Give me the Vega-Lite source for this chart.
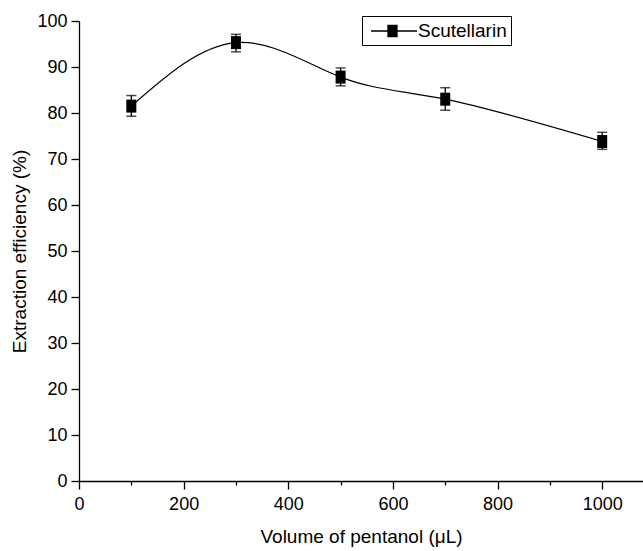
{
  "$schema": "https://vega.github.io/schema/vega-lite/v6.json",
  "width": 564,
  "height": 460,
  "autosize": "none",
  "padding": {"left": 79, "top": 21, "right": 0, "bottom": 70},
  "background": "white",
  "config": {
    "view": {"stroke": null},
    "font": "Liberation Sans",
    "axis": {
      "domainColor": "black",
      "domainWidth": 1.3,
      "tickColor": "black",
      "tickWidth": 1.3,
      "labelColor": "black",
      "titleColor": "black",
      "labelFontSize": 18,
      "titleFontSize": 19,
      "titleFontWeight": "normal",
      "grid": false
    }
  },
  "data": {
    "values": [
      {"vol": 100, "eff": 81.5, "lo": 79.3, "hi": 83.8, "series": "Scutellarin"},
      {"vol": 300, "eff": 95.3, "lo": 93.3, "hi": 97.1, "series": "Scutellarin"},
      {"vol": 500, "eff": 87.8, "lo": 85.9, "hi": 89.8, "series": "Scutellarin"},
      {"vol": 700, "eff": 83.0, "lo": 80.6, "hi": 85.5, "series": "Scutellarin"},
      {"vol": 1000, "eff": 73.8, "lo": 72.1, "hi": 75.8, "series": "Scutellarin"}
    ]
  },
  "encoding": {
    "x": {
      "field": "vol",
      "type": "quantitative",
      "scale": {"domain": [0, 1078], "nice": false, "zero": false},
      "axis": {
        "title": "Volume of pentanol (μL)",
        "format": "d",
        "values": [0, 100, 200, 300, 400, 500, 600, 700, 800, 900, 1000],
        "labelExpr": "datum.value % 200 === 0 ? datum.label : ''",
        "tickSize": {"condition": {"test": "datum.value % 200 === 0", "value": 8}, "value": 4},
        "labelPadding": 6,
        "titlePadding": 14,
        "labelFlush": false
      }
    }
  },
  "layer": [
    {
      "mark": {"type": "line", "interpolate": "natural", "color": "black", "strokeWidth": 1.2},
      "encoding": {
        "y": {
          "field": "eff",
          "type": "quantitative",
          "scale": {"domain": [0, 100], "nice": false},
          "axis": {
            "title": "Extraction efficiency (%)",
            "values": [0, 5, 10, 15, 20, 25, 30, 35, 40, 45, 50, 55, 60, 65, 70, 75, 80, 85, 90, 95, 100],
            "labelExpr": "datum.value % 10 === 0 ? datum.label : ''",
            "tickSize": {"condition": {"test": "datum.value % 10 === 0", "value": 8}, "value": 4},
            "labelPadding": 4,
            "titlePadding": 7,
            "labelFlush": false
          }
        }
      }
    },
    {
      "mark": {"type": "rule", "color": "black", "strokeWidth": 1.3},
      "encoding": {
        "y": {"field": "lo", "type": "quantitative"},
        "y2": {"field": "hi"}
      }
    },
    {
      "mark": {"type": "tick", "orient": "horizontal", "color": "black", "size": 10, "thickness": 1.5},
      "encoding": {"y": {"field": "lo", "type": "quantitative"}}
    },
    {
      "mark": {"type": "tick", "orient": "horizontal", "color": "black", "size": 10, "thickness": 1.5},
      "encoding": {"y": {"field": "hi", "type": "quantitative"}}
    },
    {
      "mark": {
        "type": "point",
        "filled": true,
        "opacity": 1,
        "shape": "M-0.77,-1L0.77,-1L0.77,1L-0.77,1Z",
        "size": 169
      },
      "encoding": {
        "y": {"field": "eff", "type": "quantitative"},
        "color": {
          "field": "series",
          "type": "nominal",
          "scale": {"domain": ["Scutellarin"], "range": ["black"]},
          "legend": {
            "title": null,
            "orient": "none",
            "legendX": 283,
            "legendY": -5,
            "direction": "vertical",
            "strokeColor": "black",
            "fillColor": "white",
            "padding": 4,
            "symbolType": "M1.1,-0.55L2.0,-0.55L2.0,0.55L1.1,0.55Z M-0.6,0L1.1,0 M2.0,0L4.0,0",
            "symbolSize": 400,
            "symbolFillColor": "black",
            "symbolStrokeColor": "black",
            "symbolStrokeWidth": 1.3,
            "symbolOpacity": 1,
            "symbolOffset": 0,
            "labelOffset": 30,
            "labelFontSize": 19,
            "labelColor": "black",
            "labelFont": "Liberation Sans"
          }
        }
      }
    }
  ]
}
